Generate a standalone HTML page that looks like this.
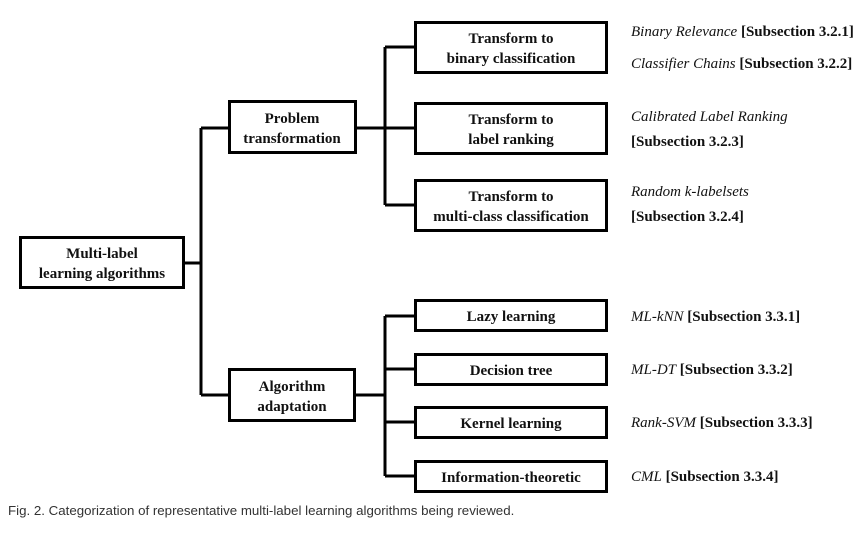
<!DOCTYPE html>
<html><head><meta charset="utf-8"><style>
body{margin:0;background:#fff;width:864px;height:528px;overflow:hidden}
svg text{font-family:"Liberation Serif",serif;}
.b{font-weight:bold;font-size:15px;text-anchor:middle;fill:#111}
.r{font-size:15px;fill:#111}
.i{font-style:italic}
.s{font-weight:bold}
</style></head><body>
<svg width="864" height="528" viewBox="0 0 864 528" xmlns="http://www.w3.org/2000/svg">
<g fill="none" stroke="#000" stroke-width="3">
<rect x="20.5" y="237.5" width="163" height="50"/>
<rect x="229.5" y="101.5" width="126" height="51"/>
<rect x="229.5" y="369.5" width="125" height="51"/>
<rect x="415.5" y="22.5" width="191" height="50"/>
<rect x="415.5" y="103.5" width="191" height="50"/>
<rect x="415.5" y="180.5" width="191" height="50"/>
<rect x="415.5" y="300.5" width="191" height="30"/>
<rect x="415.5" y="354.5" width="191" height="30"/>
<rect x="415.5" y="407.5" width="191" height="30"/>
<rect x="415.5" y="461.5" width="191" height="30"/>
<path d="M184 263H201M201 128V395M201 128H229M201 395H229"/>
<path d="M356 128H385M385 47V205M385 47H415M385 128H415M385 205H415"/>
<path d="M355 395H385M385 316V476M385 316H415M385 369H415M385 422H415M385 476H415"/>
</g>
<text class="b" x="102" y="258">Multi-label</text>
<text class="b" x="102" y="278">learning algorithms</text>
<text class="b" x="292" y="123">Problem</text>
<text class="b" x="292" y="143">transformation</text>
<text class="b" x="292" y="391">Algorithm</text>
<text class="b" x="292" y="411">adaptation</text>
<text class="b" x="511" y="43">Transform to</text>
<text class="b" x="511" y="63">binary classification</text>
<text class="b" x="511" y="124">Transform to</text>
<text class="b" x="511" y="144">label ranking</text>
<text class="b" x="511" y="201">Transform to</text>
<text class="b" x="511" y="221">multi-class classification</text>
<text class="b" x="511" y="321">Lazy learning</text>
<text class="b" x="511" y="375">Decision tree</text>
<text class="b" x="511" y="428">Kernel learning</text>
<text class="b" x="511" y="482">Information-theoretic</text>
<text class="r" x="631" y="36"><tspan class="i">Binary Relevance</tspan> <tspan class="s">[Subsection 3.2.1]</tspan></text>
<text class="r" x="631" y="68"><tspan class="i">Classifier Chains</tspan> <tspan class="s">[Subsection 3.2.2]</tspan></text>
<text class="r i" x="631" y="121">Calibrated Label Ranking</text>
<text class="r s" x="631" y="146">[Subsection 3.2.3]</text>
<text class="r i" x="631" y="196">Random k-labelsets</text>
<text class="r s" x="631" y="221">[Subsection 3.2.4]</text>
<text class="r" x="631" y="321"><tspan class="i">ML-kNN</tspan> <tspan class="s">[Subsection 3.3.1]</tspan></text>
<text class="r" x="631" y="374"><tspan class="i">ML-DT</tspan> <tspan class="s">[Subsection 3.3.2]</tspan></text>
<text class="r" x="631" y="427"><tspan class="i">Rank-SVM</tspan> <tspan class="s">[Subsection 3.3.3]</tspan></text>
<text class="r" x="631" y="481"><tspan class="i">CML</tspan> <tspan class="s">[Subsection 3.3.4]</tspan></text>
<text x="8" y="515" style="font-family:'Liberation Sans',sans-serif;font-size:13.3px;fill:#333">Fig. 2. Categorization of representative multi-label learning algorithms being reviewed.</text>
</svg>
</body></html>
